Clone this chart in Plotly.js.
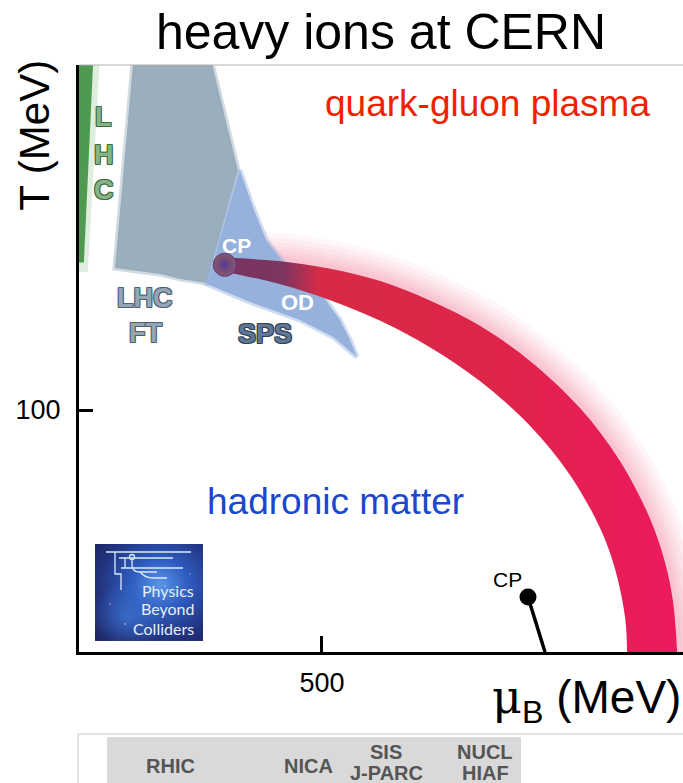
<!DOCTYPE html>
<html><head><meta charset="utf-8">
<script src="https://cdn.plot.ly/plotly-3.0.1.min.js"></script>
<style>html,body{margin:0;padding:0;background:#fff}#chart{width:683px;height:783px}</style>
</head><body><div id="chart"></div><script>
// ---- data (muB in MeV, T in MeV) ----
const muRange = [0, 1243];
const tRange = [0, 242.6];
const xTickVals = [500];
const xTickText = ['500'];
const yTickVals = [100];
const yTickText = ['100'];

// crossover band (outer / inner edges); the last points run just past the axis
const muOuter = [300, 414, 517, 620, 722, 825, 928, 1031, 1113, 1175, 1206, 1222, 1231, 1232];
const tOuter  = [163, 161.5, 158.4, 153.3, 145.3, 134.8, 120.3, 100.8, 79, 55.2, 37, 21.5, 0, -8];
const muInner = [300, 414, 517, 620, 722, 825, 928, 1010, 1072, 1103, 1124, 1128, 1128.5];
const tInner  = [157.2, 152, 145.4, 136.9, 126, 112, 93.5, 73.3, 51.3, 34.4, 14, 0, -8];

// LHC strip
const lhcMuB = [0, 29, 10, 0];
const lhcT   = [243, 243, 161, 161];
const lhcGlowMuB = [0, 42, 18, 0];
const lhcGlowT   = [243, 243, 157, 157];

// LHC fixed-target region
const ftMuB = [111, 274, 327, 263, 208, 167, 74, 111];
const ftT   = [243, 243, 199.2, 152.5, 154.2, 156.2, 158.7, 243];

// SPS region
const spsMuB = [331, 358, 385, 420, 455, 496, 537, 558, 572, 523, 455, 352, 263, 331];
const spsT   = [199.2, 183.9, 170.3, 161.2, 153.7, 148.8, 137.2, 128.9, 121.9, 130.2, 137.2, 144.6, 152.1, 199.2];

// critical points
const cpMuB = [300];
const cpT = [160];
const cpLineMuB = [924, 959];
const cpLineT = [22.7, 0];

// bottom facility bar
const facilityTop = ['RHIC', 'NICA', 'SIS', 'NUCL'];
const facilityBottom = ['', '', 'J-PARC', 'HIAF'];
const facilityMuB = [189, 473, 632, 836];

const FONT = 'Liberation Sans, Arial, Helvetica, sans-serif';

const traces = [];
// soft glow of the band
[56, 46, 37, 29, 22, 15, 9].forEach(function (w) {
  traces.push({x: muOuter, y: tOuter, mode: 'lines', line: {shape: 'spline', smoothing: 1, width: w, color: 'rgba(236,40,90,0.045)'}, hoverinfo: 'skip'});
});
traces.push({x: lhcGlowMuB, y: lhcGlowT, mode: 'lines', fill: 'toself', fillcolor: 'rgba(90,170,90,0.2)', line: {width: 0}, hoverinfo: 'skip'});
traces.push({x: lhcMuB, y: lhcT, mode: 'lines', fill: 'toself', fillcolor: '#4f9a50', line: {width: 0}, hoverinfo: 'skip'});
traces.push({x: ftMuB, y: ftT, mode: 'lines', fill: 'toself', fillcolor: '#9aaebc', line: {width: 5, color: 'rgba(154,174,188,0.45)'}, hoverinfo: 'skip'});
traces.push({x: spsMuB, y: spsT, mode: 'lines', fill: 'toself', fillcolor: '#96b1dc', line: {width: 5, color: 'rgba(150,177,220,0.45)'}, hoverinfo: 'skip'});
traces.push({
  x: muOuter.concat(muInner.slice().reverse()),
  y: tOuter.concat(tInner.slice().reverse()),
  mode: 'lines', fill: 'toself',
  line: {width: 0, shape: 'spline', smoothing: 1},
  fillgradient: {type: 'horizontal', start: 300, stop: 1231,
    colorscale: [[0, '#76345e'], [0.13, '#7c3660'], [0.21, '#d72a46'], [0.6, '#df244a'], [1, '#ec1a5e']]},
  hoverinfo: 'skip'
});
traces.push({x: cpMuB, y: cpT, mode: 'markers', marker: {size: 23, color: '#8c5868', gradient: {type: 'radial', color: '#5a3a90'}, line: {color: '#56358a', width: 1}}, hoverinfo: 'skip'});
traces.push({x: cpLineMuB, y: cpLineT, mode: 'lines', line: {color: '#000', width: 3.5}, hoverinfo: 'skip'});
traces.push({x: [cpLineMuB[0]], y: [cpLineT[0]], mode: 'markers', marker: {size: 17, color: '#000'}, hoverinfo: 'skip'});

function outline(c) {
  return '-1px -1px 0 ' + c + ', 1px -1px 0 ' + c + ', -1px 1px 0 ' + c + ', 1px 1px 0 ' + c;
}

const annotations = [
  {text: 'quark-gluon plasma', x: 840, y: 226.5, font: {size: 37, color: '#ee2200'}},
  {text: 'hadronic matter', x: 527, y: 62, font: {size: 37, color: '#1848d0'}},
  {text: 'L', x: 49.5, y: 221, font: {size: 27, color: '#86b486', weight: 'bold', shadow: outline('#3f6e3f')}},
  {text: 'H', x: 51.5, y: 205.4, font: {size: 27, color: '#86b486', weight: 'bold', shadow: outline('#3f6e3f')}},
  {text: 'C', x: 51.5, y: 190.9, font: {size: 27, color: '#86b486', weight: 'bold', shadow: outline('#3f6e3f')}},
  {text: 'LHC', x: 136, y: 146.3, font: {size: 27, color: '#93a6b5', weight: 'bold', shadow: outline('#4f6170')}},
  {text: 'FT', x: 136, y: 131.8, font: {size: 27, color: '#93a6b5', weight: 'bold', shadow: outline('#4f6170')}},
  {text: 'SPS', x: 383, y: 131.4, font: {size: 27, color: '#5f7896', weight: 'bold', shadow: outline('#2f4258')}},
  {text: 'OD', x: 449, y: 144.6, font: {size: 22, color: '#ffffff', weight: 'bold'}},
  {text: 'CP', x: 325, y: 168.2, font: {size: 21, color: '#ffffff', weight: 'bold'}},
  {text: 'CP', x: 881, y: 29.8, font: {size: 21, color: '#000'}},
  // axis titles
  {text: 'T (MeV)', xref: 'paper', yref: 'paper', x: -0.074, y: 0.88, textangle: -90, font: {size: 42, color: '#000'}},
  {text: '<span style="font-family:DejaVu Serif">μ</span><sub>B</sub> (MeV)', xref: 'paper', yref: 'paper', x: 1.0, y: -0.082, xanchor: 'right', font: {size: 46, color: '#000'}},
  // logo text
  {text: 'Physics', xref: 'paper', yref: 'paper', x: 0.1937, y: 0.1056, xanchor: 'right', font: {size: 16, color: '#e6eefa', family: 'Lato, sans-serif'}},
  {text: 'Beyond', xref: 'paper', yref: 'paper', x: 0.1937, y: 0.0733, xanchor: 'right', font: {size: 16, color: '#e6eefa', family: 'Lato, sans-serif'}},
  {text: 'Colliders', xref: 'paper', yref: 'paper', x: 0.1937, y: 0.0392, xanchor: 'right', font: {size: 16, color: '#e6eefa', family: 'Lato, sans-serif'}}
];
facilityTop.forEach(function (t, i) {
  const two = facilityBottom[i] !== '';
  annotations.push({text: t, x: facilityMuB[i], xref: 'x', yref: 'paper', y: two ? -0.1704 : -0.1942, font: {size: 20, color: '#555', weight: 'bold'}});
  if (two) annotations.push({text: facilityBottom[i], x: facilityMuB[i], xref: 'x', yref: 'paper', y: -0.2061, font: {size: 20, color: '#555', weight: 'bold'}});
});
annotations.forEach(function (a) { a.showarrow = false; if (!a.xanchor) a.xanchor = 'center'; a.yanchor = 'middle'; });

const logoSvg = '<svg xmlns="http://www.w3.org/2000/svg" width="108" height="97" viewBox="0 0 108 97">' +
  '<defs><radialGradient id="g" cx="0.6" cy="0.42" r="0.75"><stop offset="0" stop-color="#5b95e8"/><stop offset="0.35" stop-color="#2f5cc0"/><stop offset="0.75" stop-color="#22327e"/><stop offset="1" stop-color="#1d2462"/></radialGradient>' +
  '<radialGradient id="h" cx="0.3" cy="0.75" r="0.35"><stop offset="0" stop-color="#3f7ad8" stop-opacity="0.7"/><stop offset="1" stop-color="#3f7ad8" stop-opacity="0"/></radialGradient></defs>' +
  '<rect width="108" height="97" fill="url(#g)"/><rect width="108" height="97" fill="url(#h)"/>' +
  '<g stroke="#d8ecfa" stroke-width="1.3" fill="none">' +
  '<path d="M11 8 H96"/><path d="M24 14 H78"/><path d="M26 24 H88"/>' +
  '<path d="M20 8 V30 H26 V46"/><path d="M30 14 V24"/><circle cx="37" cy="13" r="2.5"/>' +
  '<path d="M37 16 V21 Q37 28 45 28 H62"/><path d="M45 28 Q50 34 58 34 H72"/></g>' +
  '<g fill="#ffffff" opacity="0.7"><circle cx="70" cy="42" r="0.8"/><circle cx="15" cy="60" r="0.7"/><circle cx="88" cy="50" r="0.7"/><circle cx="30" cy="80" r="0.8"/><circle cx="60" cy="88" r="0.6"/><circle cx="95" cy="30" r="0.6"/></g></svg>';

const layout = {
  width: 683, height: 783,
  margin: {l: 79, r: 0, t: 65, b: 131, pad: 0},
  paper_bgcolor: '#fff', plot_bgcolor: '#fff',
  showlegend: false,
  font: {family: FONT, color: '#000'},
  title: {text: 'heavy ions at CERN', font: {size: 50, color: '#000'}, x: 0.5, xref: 'paper', xanchor: 'center', y: 0.96, yref: 'container', yanchor: 'middle'},
  xaxis: {range: muRange, tickvals: xTickVals, ticktext: xTickText, ticks: 'inside', ticklen: 16, tickwidth: 3, tickcolor: '#000',
    showline: true, linewidth: 3, linecolor: '#000', showgrid: false, zeroline: false, tickfont: {size: 27, color: '#000'}, ticklabelstandoff: 5, fixedrange: true},
  yaxis: {range: tRange, tickvals: yTickVals, ticktext: yTickText, ticks: 'inside', ticklen: 14, tickwidth: 3, tickcolor: '#000',
    showline: true, linewidth: 3, linecolor: '#000', showgrid: false, zeroline: false, tickfont: {size: 27, color: '#000'}, ticklabelstandoff: 10, fixedrange: true},
  shapes: [
    {type: 'line', xref: 'paper', yref: 'paper', x0: 0, x1: 1, y0: 1, y1: 1, line: {color: '#b0b0b0', width: 1}},
    {type: 'rect', xref: 'paper', yref: 'paper', x0: -0.0017, x1: 1.02, y0: -0.1397, y1: -0.26, line: {color: '#c8c8c8', width: 1}, fillcolor: '#fff'},
    {type: 'rect', xref: 'paper', yref: 'paper', x0: 0.0464, x1: 0.7318, y0: -0.1448, y1: -0.26, line: {width: 0}, fillcolor: '#d9d9d9'}
  ],
  images: [{source: 'data:image/svg+xml;charset=utf-8,' + encodeURIComponent(logoSvg), xref: 'paper', yref: 'paper',
    x: 0.0265, y: 0.184, sizex: 0.1788, sizey: 0.1652, xanchor: 'left', yanchor: 'top', sizing: 'stretch', layer: 'above'}],
  annotations: annotations
};
traces.forEach(function (t) { t.showlegend = false; });
Plotly.newPlot('chart', traces, layout, {displayModeBar: false, staticPlot: true});
</script></body></html>
